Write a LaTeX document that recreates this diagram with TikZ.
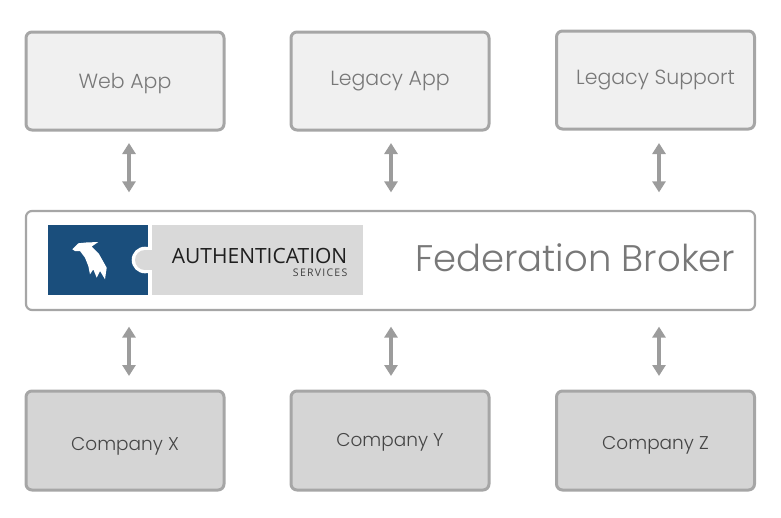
\documentclass[tikz,border=0pt]{standalone}
\usepackage{fontspec}
\setmainfont{Poppins Light}
\newfontfamily\opensans{Open Sans}
\usetikzlibrary{arrows.meta}
\definecolor{boxline}{HTML}{A6A6A6}
\definecolor{topfill}{HTML}{F0F0F0}
\definecolor{botfill}{HTML}{D5D5D5}
\definecolor{toptext}{HTML}{787878}
\definecolor{bottext}{HTML}{454545}
\definecolor{arrowc}{HTML}{9C9C9C}
\definecolor{logoblue}{HTML}{1A4E7C}
\definecolor{logogray}{HTML}{D9D9D9}
\tikzset{
  topbox/.style={draw=boxline, line width=3pt, fill=topfill, rounded corners=6pt, minimum width=198pt, minimum height=98pt, inner sep=0pt},
  botbox/.style={draw=boxline, line width=3pt, fill=botfill, rounded corners=6pt, minimum width=198pt, minimum height=99pt, inner sep=0pt},
  brokerbox/.style={draw=boxline, line width=2.2pt, fill=white, rounded corners=6pt, minimum width=729pt, minimum height=99pt, inner sep=0pt},
  toplabel/.style={text=toptext, font=\fontsize{20.5}{22}\selectfont, anchor=base, inner sep=0pt},
  botlabel/.style={text=bottext, font=\fontsize{18.5}{20}\selectfont, anchor=base, inner sep=0pt},
  dblarrow/.style={draw=arrowc, line width=4pt, {Triangle[width=13pt,length=11pt]}-{Triangle[width=13pt,length=11pt]}},
}
\begin{document}
\begin{tikzpicture}[x=1pt,y=-1pt]
\useasboundingbox (0,0) rectangle (781,517);
% top boxes
\node[topbox] (web) at (125,81) {};
\node[topbox] (legacy) at (390,81) {};
\node[topbox] (support) at (655.5,80) {};
\node[toplabel] (webl) at (125,88.5) {Web App};
\node[toplabel] (legacyl) at (390,85) {Legacy App};
\node[toplabel] (supportl) at (655.5,84) {Legacy Support};
% broker
\node[brokerbox] (broker) at (390.5,260.5) {};
% logo
\fill[logoblue] (48,225) rectangle (148.3,295);
\fill[white] (145,260) circle (13.3);
\fill[logogray] (151.7,225) rectangle (363,295);
\fill[logogray] (145,260) circle (10);
\fill[logogray] (145,250) rectangle (152,270);
\fill[white] (72.3,249.3) -- (78.3,243.3) -- (86,242.5) -- (98.3,242) -- (91.7,246.5)
  -- (99,254) -- (106.7,267.7) -- (105,279.3) -- (100,271) -- (96.7,277.7)
  -- (93.3,269.3) -- (90,274.3) -- (88.3,266) -- (85,257.7) -- (80,251) -- (75,251) -- cycle;
\node[anchor=base east, inner sep=0pt, text=black!88, font=\opensans\fontsize{21}{22}\selectfont] (auth) at (347.5,263.5) {AUTHENTICATION};
\node[anchor=base east, inner sep=0pt, text=black!75, font=\opensans\fontsize{10.5}{12}\selectfont\addfontfeature{LetterSpace=12}] (serv) at (347.5,276) {SERVICES};
\node[anchor=base west, inner sep=0pt, text=toptext, font=\fontsize{37}{40}\selectfont] (fb) at (415,271.7) {Federation Broker};
% bottom boxes
\node[botbox] (cx) at (125,440.5) {};
\node[botbox] (cy) at (390,440.5) {};
\node[botbox] (cz) at (655.5,440.5) {};
\node[botlabel] (cxl) at (125,450) {Company X};
\node[botlabel] (cyl) at (390,446.5) {Company Y};
\node[botlabel] (czl) at (655.5,449.3) {Company Z};
% arrows
\draw[dblarrow, shorten <=11.5pt, shorten >=17.5pt] ([xshift=4pt]web.south) -- ([xshift=4pt]web.south |- broker.north);
\draw[dblarrow, shorten <=11.5pt, shorten >=17.5pt] ([xshift=1pt]legacy.south) -- ([xshift=1pt]legacy.south |- broker.north);
\draw[dblarrow, shorten <=12.5pt, shorten >=17.5pt] ([xshift=3.5pt]support.south) -- ([xshift=3.5pt]support.south |- broker.north);
\draw[dblarrow, shorten <=15.5pt, shorten >=13.5pt] ([xshift=4pt]cx.north |- broker.south) -- ([xshift=4pt]cx.north);
\draw[dblarrow, shorten <=15.5pt, shorten >=13.5pt] ([xshift=1pt]cy.north |- broker.south) -- ([xshift=1pt]cy.north);
\draw[dblarrow, shorten <=15.5pt, shorten >=13.5pt] ([xshift=3.5pt]cz.north |- broker.south) -- ([xshift=3.5pt]cz.north);
\end{tikzpicture}
\end{document}
